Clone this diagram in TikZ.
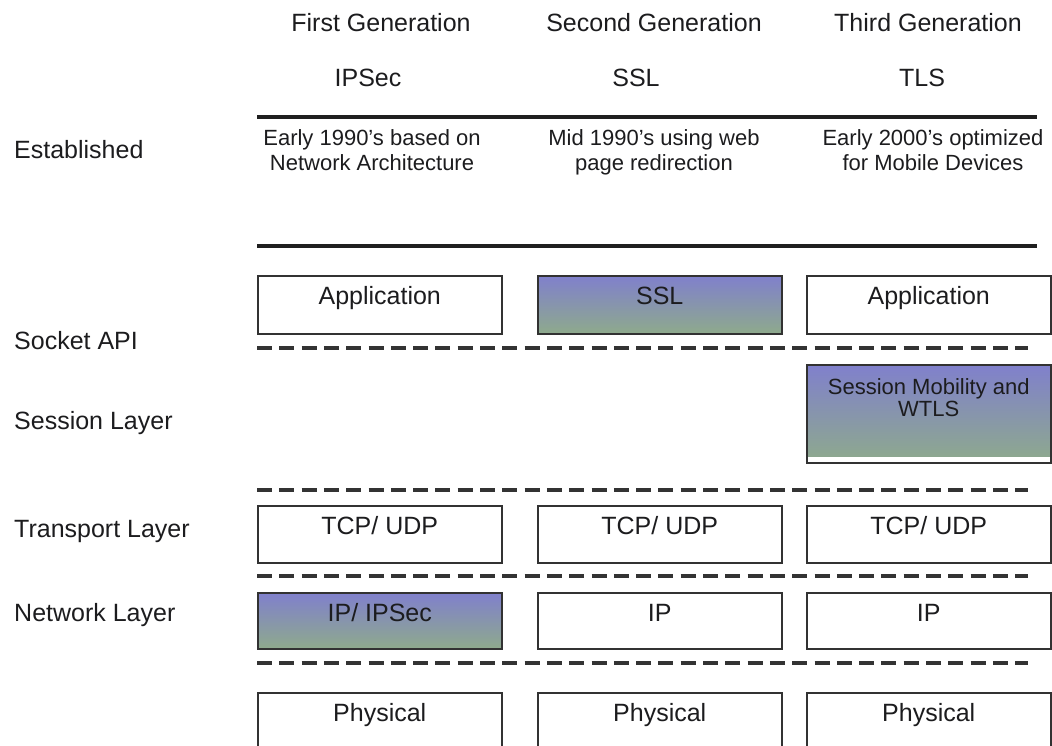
\documentclass[tikz,border=0pt]{standalone}
\usepackage{fontspec}
\setmainfont{Liberation Sans}
\usepackage{tikz}
\usetikzlibrary{positioning}

\definecolor{ink}{RGB}{28,28,30}
\definecolor{frame}{RGB}{50,50,50}
\definecolor{shadetop}{RGB}{128,128,204}
\definecolor{shadebot}{RGB}{142,170,140}

% two centred lines, base anchor on the first line
\newcommand{\twoline}[2]{\begin{tabular}[t]{@{}c@{}}#1\\#2\end{tabular}}

\begin{document}
\begin{tikzpicture}[x=1pt, y=-1pt, text=ink,
	every node/.style={font=\fontsize{25}{30}\selectfont, inner sep=0pt},
	desc/.style={font=\fontsize{22}{25}\selectfont, anchor=base},
	rowlabel/.style={anchor=base west},
	layerbox/.style={draw=frame, line width=1.5pt, fill=white, anchor=north west, minimum width=244pt, text height=29pt, text depth=28pt},
	shadedbox/.style={layerbox, top color=shadetop, bottom color=shadebot},
	rulebar/.style={line width=4.5pt, draw=black!88},
	dashbar/.style={line width=4pt, draw=black!80, dash pattern=on 15pt off 7.3pt}]
	\useasboundingbox (0,0) rectangle (1052,746);
	\clip (0,0) rectangle (1052,746);

	% generations and protocols
	\node[anchor=base] (gen1) at (381,32) {First Generation};
	\node[anchor=base] (gen2) at (654,32) {Second Generation};
	\node[anchor=base] (gen3) at (928,32) {Third Generation};
	\node[anchor=base] (ipsec) at (368,87) {IPSec};
	\node[anchor=base] (ssl) at (636,87) {SSL};
	\node[anchor=base] (tls) at (922,87) {TLS};

	\draw[rulebar] (257,117) -- (1037,117);
	\node[desc] (est1) at (372,146) {\twoline{Early 1990's based on}{Network Architecture}};
	\node[desc] (est2) at (654,146) {\twoline{Mid 1990's using web}{page redirection}};
	\node[desc] (est3) at (933,146) {\twoline{Early 2000's optimized}{for Mobile Devices}};
	\draw[rulebar] (257,246) -- (1037,246);

	% row names
	\node[rowlabel] (established) at (14,159) {Established};
	\node[rowlabel] (socket) at (14,349) {Socket API};
	\node[rowlabel] (session) at (14,429) {Session Layer};
	\node[rowlabel] (transport) at (14,537) {Transport Layer};
	\node[rowlabel] (network) at (14,621) {Network Layer};

	% application row
	\node[layerbox, text depth=29pt] (app1) at (257,275) {Application};
	\node[shadedbox, text depth=29pt] (sslbox) at (537,275) {SSL};
	\node[layerbox, text depth=29pt] (app3) at (806,275) {Application};
	\draw[dashbar] (257,348) -- (1028,348);

	\node[layerbox, text height=30pt, text depth=68pt, font=\fontsize{22}{22}\selectfont,
		path picture={\shade[top color=shadetop, bottom color=shadebot]
			(path picture bounding box.north west) rectangle ([yshift=6pt]path picture bounding box.south east);}]
		(wtls) at (806,364) {\twoline{Session Mobility and}{WTLS}};
	\draw[dashbar] (257,490) -- (1028,490);

	% transport row
	\node[layerbox] (tcp1) at (257,505) {TCP/ UDP};
	\node[layerbox] (tcp2) at (537,505) {TCP/ UDP};
	\node[layerbox] (tcp3) at (806,505) {TCP/ UDP};
	\draw[dashbar] (257,576) -- (1028,576);

	% network row
	\node[shadedbox, text depth=27pt] (ip1) at (257,592) {IP/ IPSec};
	\node[layerbox, text depth=27pt] (ip2) at (537,592) {IP};
	\node[layerbox, text depth=27pt] (ip3) at (806,592) {IP};
	\draw[dashbar] (257,663) -- (1028,663);

	% physical row runs off the bottom
	\node[layerbox, text depth=80pt] (phy1) at (257,692) {Physical};
	\node[layerbox, text depth=80pt] (phy2) at (537,692) {Physical};
	\node[layerbox, text depth=80pt] (phy3) at (806,692) {Physical};
\end{tikzpicture}
\end{document}
